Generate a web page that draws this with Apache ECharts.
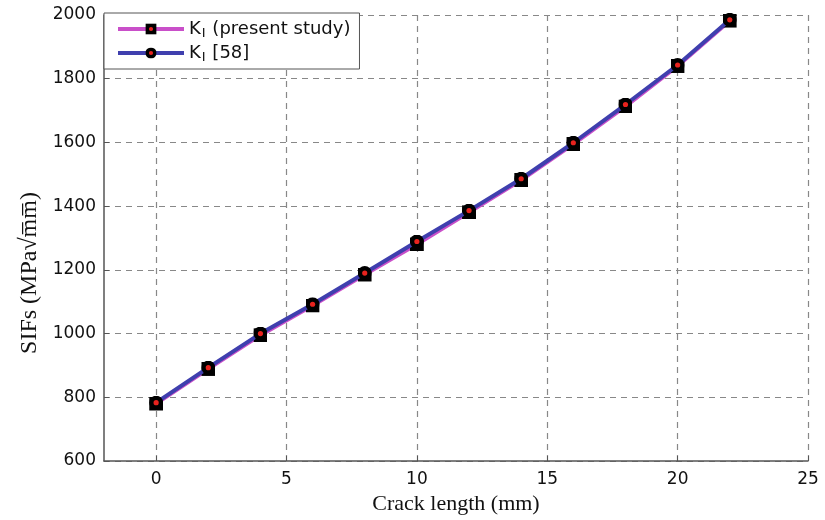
<!DOCTYPE html>
<html>
<head>
<meta charset="utf-8">
<script src="https://cdn.jsdelivr.net/npm/echarts@6/dist/echarts.min.js"></script>
<style>
html,body{margin:0;padding:0;background:#fff;}
#chart{width:825px;height:520px;}
</style>
</head>
<body>
<div id="chart"></div>
<script>
// Data
var crackLength = [0, 2, 4, 6, 8, 10, 12, 14, 16, 18, 20, 22];
var kIPresent = [780, 889, 995, 1088, 1185, 1280, 1381, 1482, 1595, 1713, 1840, 1982];
var kIRef58 = [783, 893, 1000, 1092, 1190, 1289, 1386, 1486, 1599, 1719, 1843, 1985];
var xTicks = [0, 5, 10, 15, 20, 25];
var yTicks = [600, 800, 1000, 1200, 1400, 1600, 1800, 2000];
var seriesNames = ['K_I (present study)', 'K_I [58]'];

function pairs(xs, ys) { return xs.map(function (x, i) { return [x, ys[i]]; }); }
function svgSym(shape) {
  var body = shape === 'square'
    ? '<rect x="0" y="0" width="14" height="14" fill="#000"/>'
    : '<circle cx="7" cy="7" r="7" fill="#000"/>';
  var svg = '<svg xmlns="http://www.w3.org/2000/svg" width="14" height="14" viewBox="0 0 14 14">' + body +
    '<circle cx="7" cy="7" r="2.6" fill="#e8231e"/></svg>';
  return 'image://data:image/svg+xml;charset=utf-8,' + encodeURIComponent(svg);
}
var SANS = 'DejaVu Sans';

var chart = echarts.init(document.getElementById('chart'), null, {renderer: 'canvas'});
var option = {
  animation: false,
  backgroundColor: '#fff',
  grid: {left: 104, right: 17, top: 15, bottom: 52, containLabel: false},
  legend: {
    left: 104, top: 13,
    orient: 'vertical',
    backgroundColor: '#fff',
    borderColor: '#555', borderWidth: 1,
    padding: [5, 9, 5, 12],
    itemGap: 2,
    itemWidth: 66, itemHeight: 14,
    lineStyle: {width: 4},
    data: seriesNames,
    formatter: function (n) {
      var rest = n.replace('K_I', '');
      return '{k|K}{s|I}{t|' + rest + '}';
    },
    textStyle: {
      rich: {
        k: {fontFamily: SANS, fontSize: 18, color: '#111', lineHeight: 22},
        s: {fontFamily: SANS, fontSize: 13, color: '#111', padding: [9, 1, 0, 1], lineHeight: 22},
        t: {fontFamily: SANS, fontSize: 18, color: '#111', lineHeight: 22}
      }
    }
  },
  xAxis: {
    type: 'value', min: -2, max: 25, interval: 5,
    name: 'Crack length (mm)', nameLocation: 'middle', nameGap: 32,
    nameTextStyle: {fontFamily: 'Liberation Serif', fontSize: 22, color: '#111'},
    axisLine: {show: true, onZero: false, lineStyle: {color: '#555', width: 1.5}},
    axisTick: {show: true, inside: true, length: 5, lineStyle: {color: '#555'},
      customValues: xTicks},
    axisLabel: {fontFamily: SANS, fontSize: 17, color: '#111', margin: 10,
      customValues: xTicks},
    splitLine: {show: true, customValues: xTicks, lineStyle: {color: '#888', type: [6, 5], width: 1.2}}
  },
  yAxis: {
    type: 'value', min: 600, max: 2000, interval: 200,
    name: 'SIFs (MPa\u221Am\u0305m\u0305)', nameLocation: 'middle', nameGap: 60, nameRotate: 90,
    nameTextStyle: {fontFamily: 'Liberation Serif', fontSize: 24, color: '#111', padding: [0, 70, 0, 0]},
    axisLine: {show: true, onZero: false, lineStyle: {color: '#555', width: 1.5}},
    axisTick: {show: true, inside: true, length: 5, lineStyle: {color: '#555'}},
    axisLabel: {fontFamily: SANS, fontSize: 17, color: '#111', margin: 8,
      formatter: function (v) { return String(v); }},
    splitLine: {show: true, lineStyle: {color: '#888', type: [6, 5], width: 1.2}}
  },
  series: [
    {
      name: seriesNames[0], type: 'line',
      data: pairs(crackLength, kIPresent),
      lineStyle: {color: '#c94fc9', width: 4},
      itemStyle: {color: '#c94fc9'},
      symbol: svgSym('square'), symbolSize: 14, showAllSymbol: true, z: 2
    },
    {
      name: seriesNames[1], type: 'line',
      data: pairs(crackLength, kIRef58),
      lineStyle: {color: '#3f3fae', width: 4},
      itemStyle: {color: '#3f3fae'},
      symbol: svgSym('circle'), symbolSize: 14, showAllSymbol: true, z: 3
    }
  ]
};
chart.setOption(option);
</script>
</body>
</html>
